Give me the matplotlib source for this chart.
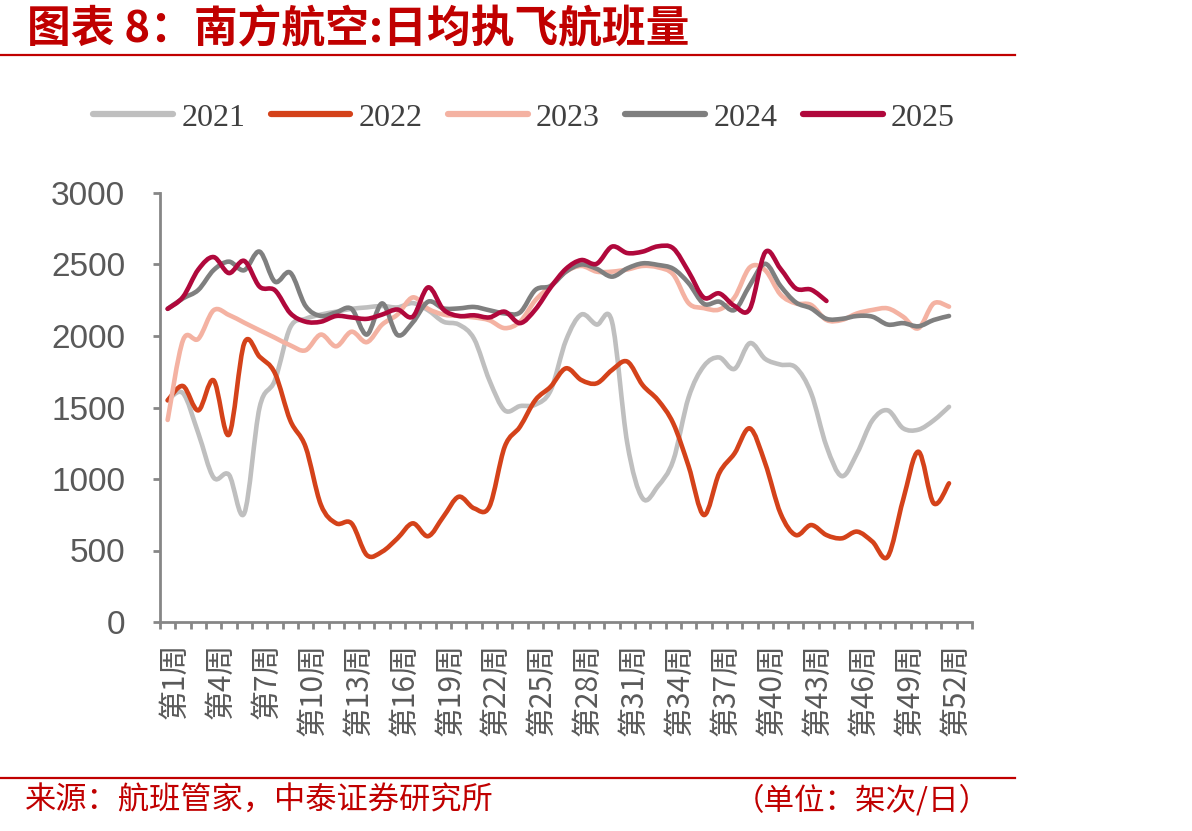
import matplotlib
matplotlib.use("Agg")
import matplotlib.pyplot as plt
from matplotlib.path import Path
from matplotlib.patches import PathPatch
from matplotlib.lines import Line2D
import matplotlib.transforms as mtransforms

plt.rcParams['font.family'] = ['Noto Sans CJK SC', 'DejaVu Sans']

# weekly average daily flights, weeks 1..52
weeks = list(range(1, 53))
y2021 = [1550, 1600, 1320, 1010, 1030, 760, 1500, 1690, 2060, 2120,
         2150, 2170, 2190, 2200, 2210, 2200, 2230, 2180, 2100, 2080,
         1980, 1690, 1480, 1510, 1520, 1620, 1970, 2150, 2080, 2100,
         1250, 865, 950, 1130, 1570, 1790, 1850, 1770, 1950, 1840,
         1800, 1780, 1600, 1230, 1020, 1180, 1410, 1480, 1355, 1345,
         1410, 1505]
y2022 = [1550, 1650, 1480, 1690, 1310, 1950, 1855, 1740, 1410, 1225,
         820, 690, 690, 468, 492, 585, 690, 600, 737, 876,
         795, 807, 1226, 1366, 1552, 1646, 1774, 1692, 1669, 1762,
         1821, 1657, 1552, 1389, 1090, 748, 1040, 1179, 1354, 1110,
         760, 608, 678, 608, 585, 632, 562, 457, 853, 1191,
         830, 970]
y2023 = [1413, 1970, 1980, 2180, 2147, 2093, 2040, 1988, 1935, 1900,
         2010, 1928, 2030, 1957, 2080, 2150, 2270, 2190, 2150, 2140,
         2130, 2110, 2055, 2100, 2250, 2350, 2450, 2490, 2450, 2450,
         2465, 2490, 2480, 2430, 2230, 2195, 2185, 2270, 2480, 2460,
         2290, 2228, 2217, 2112, 2112, 2158, 2182, 2193, 2135, 2054,
         2228, 2205]
y2024 = [2190, 2263, 2322, 2461, 2520, 2460, 2590, 2380, 2443, 2210,
         2140, 2165, 2190, 2010, 2228, 2007, 2095, 2240, 2193, 2193,
         2203, 2180, 2158, 2165, 2322, 2350, 2450, 2500, 2470, 2415,
         2473, 2508, 2497, 2470, 2370, 2225, 2240, 2182, 2355, 2505,
         2350, 2235, 2193, 2120, 2120, 2140, 2135, 2080, 2090, 2068,
         2112, 2140]
y2025 = [2190, 2273, 2465, 2552, 2440, 2525, 2345, 2320, 2160, 2100,
         2100, 2140, 2130, 2120, 2150, 2185, 2135, 2340, 2185, 2140,
         2145, 2130, 2170, 2090, 2185, 2340, 2470, 2531, 2505, 2625,
         2580, 2590, 2627, 2613, 2450, 2268, 2298, 2210, 2190, 2585,
         2470, 2333, 2324, 2245]

series_names = ['2021', '2022', '2023', '2024', '2025']
series_data = [y2021, y2022, y2023, y2024, y2025]
series_colors = ['#BFBFBF', '#D4421A', '#F4B2A2', '#7F7F7F', '#B0083C']

label_weeks = list(range(1, 53, 3))
tick_labels = [f'第{w}周' for w in label_weeks]

title = '图表 8：南方航空:日均执飞航班量'
source = '来源：航班管家，中泰证券研究所'
unit = '（单位：架次/日）'
red = '#C00000'


def smooth_path(xs, ys):
    # Bezier segments through every point, like a spreadsheet "smoothed line"
    n = len(xs)
    verts = [(xs[0], ys[0])]
    codes = [Path.MOVETO]
    for i in range(n - 1):
        p0 = i - 1 if i > 0 else i
        p3 = i + 2 if i + 2 < n else i + 1
        c1 = (xs[i] + (xs[i + 1] - xs[p0]) / 6, ys[i] + (ys[i + 1] - ys[p0]) / 6)
        c2 = (xs[i + 1] - (xs[p3] - xs[i]) / 6, ys[i + 1] - (ys[p3] - ys[i]) / 6)
        verts += [c1, c2, (xs[i + 1], ys[i + 1])]
        codes += [Path.CURVE4] * 3
    return Path(verts, codes)


fig = plt.figure(figsize=(11.92, 8.31), dpi=100)
ax = fig.add_axes([160 / 1192, 1 - 622 / 831, 812 / 1192, 429 / 831])

for name, data, color in zip(series_names, series_data, series_colors):
    xs = weeks[:len(data)]
    patch = PathPatch(smooth_path(xs, data), fill=False, edgecolor=color,
                      lw=3.3, capstyle='round', joinstyle='round')
    ax.add_patch(patch)

ax.set_xlim(0.5, 53.5)
ax.set_ylim(0, 3000)

for side in ['top', 'right']:
    ax.spines[side].set_visible(False)
for side in ['left', 'bottom']:
    ax.spines[side].set_color('#868686')
    ax.spines[side].set_linewidth(2)

ax.set_yticks(range(0, 3001, 500))
ax.tick_params(axis='y', length=5, width=2, color='#868686', pad=20,
               labelsize=24, labelcolor='#595959')
for lbl in ax.get_yticklabels():
    lbl.set_family(['Liberation Sans'])

# category boundaries as ticks, labels every 3 weeks
ax.set_xticks([i + 0.5 for i in range(0, 54)])
ax.set_xticklabels([])
ax.tick_params(axis='x', which='major', length=5, width=2, color='#868686')
ax.set_xticks(label_weeks, minor=True)
ax.set_xticklabels(tick_labels, minor=True, rotation=90)
ax.tick_params(axis='x', which='minor', length=0, pad=15, labelsize=21.5,
               labelcolor='#595959')
shift = mtransforms.ScaledTranslation(7 / 100, 0, fig.dpi_scale_trans)
for lbl in ax.get_xticklabels(minor=True):
    lbl.set_transform(lbl.get_transform() + shift)

handles = [Line2D([], [], color=c, lw=4.5, solid_capstyle='round') for c in series_colors]
fig.legend(handles, series_names, loc='center', bbox_to_anchor=(524 / 1192, 1 - 118 / 831),
           ncol=5, frameon=False, handlelength=2.5, handletextpad=0.25, columnspacing=0.8,
           prop={'family': 'Liberation Serif', 'size': 23}, labelcolor='#404040')

fig.text(27 / 1192, 1 - 29 / 831, title, fontsize=31.5, fontweight='bold', color=red,
         va='center', ha='left')
fig.add_artist(Line2D([0, 1015 / 1192], [1 - 55 / 831] * 2, color=red, lw=1.6))
fig.add_artist(Line2D([0, 1015 / 1192], [1 - 778 / 831] * 2, color=red, lw=1.6))
fig.text(25 / 1192, 1 - 801 / 831, source, fontsize=22.5, color=red, va='center', ha='left')
fig.text(990 / 1192, 1 - 801 / 831, unit, fontsize=22, color=red, va='center', ha='right')

fig.savefig('out.png', dpi=100)
